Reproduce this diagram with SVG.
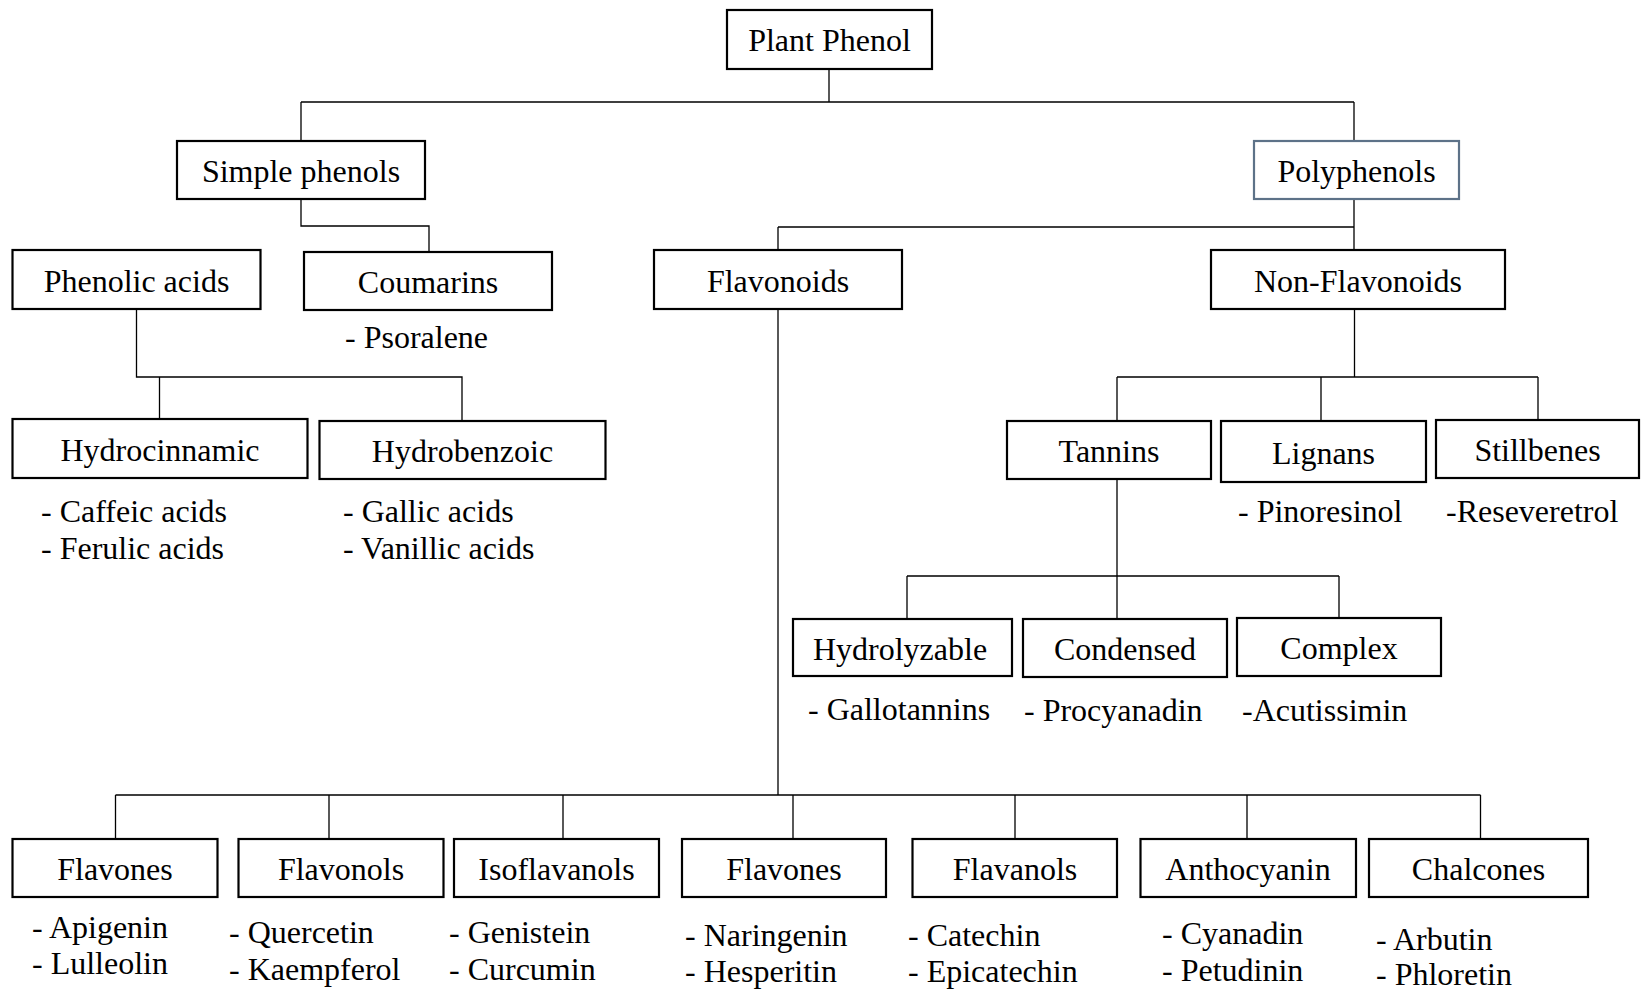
<svg xmlns="http://www.w3.org/2000/svg" width="1642" height="990" viewBox="0 0 1642 990">
<style>
.box{fill:#fff;stroke:#000;stroke-width:2.2}
.blue{stroke:#5d7288}
.lbl{font-family:"Liberation Serif","Times New Roman",serif;font-size:32px;fill:#000;text-anchor:middle}
.item{font-family:"Liberation Serif","Times New Roman",serif;font-size:32px;fill:#000}
.con{fill:none;stroke:#000;stroke-width:1.3}
</style>
<rect width="1642" height="990" fill="#fff"/>
<g id="connectors">
<path class="con" d="M829 69V102M301 102H1354M301 102V141M1354 102V141"/>
<path class="con" d="M301 199V226H429V252"/>
<path class="con" d="M1354 199V250M778 227H1354M778 227V250"/>
<path class="con" d="M136.5 309V377H462V421M159.5 377V419"/>
<path class="con" d="M778 309V795M115.5 795H1480.5M115.5 795V839M329 795V839M563 795V839M793 795V839M1015 795V839M1247 795V839M1480.5 795V839"/>
<path class="con" d="M1354.5 309V377M1117 377H1538M1117 377V421M1321 377V421M1538 377V420"/>
<path class="con" d="M1117 479V619M907 576H1339M907 576V619M1339 576V618"/>
</g>
<g id="plant-phenol"><rect class="box" x="727" y="10" width="205" height="59"/><text class="lbl" x="829.5" y="51">Plant Phenol</text></g>
<g id="simple-phenols"><rect class="box" x="177" y="141" width="248" height="58"/><text class="lbl" x="301" y="181.5">Simple phenols</text></g>
<g id="polyphenols"><rect class="box blue" x="1254" y="141" width="205" height="58"/><text class="lbl" x="1356.5" y="181.5">Polyphenols</text></g>
<g id="phenolic-acids"><rect class="box" x="12.5" y="250" width="248" height="59"/><text class="lbl" x="136.5" y="291.5">Phenolic acids</text></g>
<g id="coumarins"><rect class="box" x="304" y="252" width="248" height="58"/><text class="lbl" x="428" y="293">Coumarins</text><text class="item" x="345" y="348">- Psoralene</text></g>
<g id="flavonoids"><rect class="box" x="654" y="250" width="248" height="59"/><text class="lbl" x="778" y="291.5">Flavonoids</text></g>
<g id="non-flavonoids"><rect class="box" x="1211" y="250" width="294" height="59"/><text class="lbl" x="1358" y="291.5">Non-Flavonoids</text></g>
<g id="hydrocinnamic"><rect class="box" x="12.5" y="419" width="295" height="59"/><text class="lbl" x="160" y="460.5">Hydrocinnamic</text><text class="item" x="41" y="522">- Caffeic acids</text><text class="item" x="41" y="558.5">- Ferulic acids</text></g>
<g id="hydrobenzoic"><rect class="box" x="319.5" y="421" width="286" height="58"/><text class="lbl" x="462.5" y="462">Hydrobenzoic</text><text class="item" x="343" y="522">- Gallic acids</text><text class="item" x="343" y="558.5">- Vanillic acids</text></g>
<g id="tannins"><rect class="box" x="1007" y="421" width="204" height="58"/><text class="lbl" x="1109" y="462">Tannins</text></g>
<g id="lignans"><rect class="box" x="1221" y="421" width="205" height="61"/><text class="lbl" x="1323.5" y="463.5">Lignans</text><text class="item" x="1238" y="522">- Pinoresinol</text></g>
<g id="stillbenes"><rect class="box" x="1436" y="420" width="203" height="58"/><text class="lbl" x="1537.5" y="461">Stillbenes</text><text class="item" x="1446" y="522">-Reseveretrol</text></g>
<g id="hydrolyzable"><rect class="box" x="793" y="619" width="219" height="57"/><text class="lbl" x="900" y="659.5">Hydrolyzable</text><text class="item" x="808" y="719.5">- Gallotannins</text></g>
<g id="condensed"><rect class="box" x="1023" y="619" width="204" height="58"/><text class="lbl" x="1125" y="660">Condensed</text><text class="item" x="1024" y="721">- Procyanadin</text></g>
<g id="complex"><rect class="box" x="1237" y="618" width="204" height="58"/><text class="lbl" x="1339" y="659">Complex</text><text class="item" x="1242" y="720.5">-Acutissimin</text></g>
<g id="flavones-1"><rect class="box" x="12.5" y="839" width="205" height="58"/><text class="lbl" x="115" y="880">Flavones</text><text class="item" x="32" y="937.5">- Apigenin</text><text class="item" x="32" y="973.5">- Lulleolin</text></g>
<g id="flavonols"><rect class="box" x="238.5" y="839" width="205" height="58"/><text class="lbl" x="341" y="880">Flavonols</text><text class="item" x="229" y="942.5">- Quercetin</text><text class="item" x="229" y="979.5">- Kaempferol</text></g>
<g id="isoflavanols"><rect class="box" x="454" y="839" width="205" height="58"/><text class="lbl" x="556.5" y="880">Isoflavanols</text><text class="item" x="449" y="942.5">- Genistein</text><text class="item" x="449" y="979.5">- Curcumin</text></g>
<g id="flavones-2"><rect class="box" x="682" y="839" width="204" height="58"/><text class="lbl" x="784" y="880">Flavones</text><text class="item" x="685" y="945.5">- Naringenin</text><text class="item" x="685" y="982">- Hesperitin</text></g>
<g id="flavanols"><rect class="box" x="912.5" y="839" width="204.5" height="58"/><text class="lbl" x="1015" y="880">Flavanols</text><text class="item" x="908" y="945.5">- Catechin</text><text class="item" x="908" y="982">- Epicatechin</text></g>
<g id="anthocyanin"><rect class="box" x="1140.5" y="839" width="215.5" height="58"/><text class="lbl" x="1248" y="880">Anthocyanin</text><text class="item" x="1162" y="943.5">- Cyanadin</text><text class="item" x="1162" y="980.5">- Petudinin</text></g>
<g id="chalcones"><rect class="box" x="1369" y="839" width="219" height="58"/><text class="lbl" x="1478.5" y="880">Chalcones</text><text class="item" x="1376" y="950">- Arbutin</text><text class="item" x="1376" y="985">- Phloretin</text></g>
</svg>
